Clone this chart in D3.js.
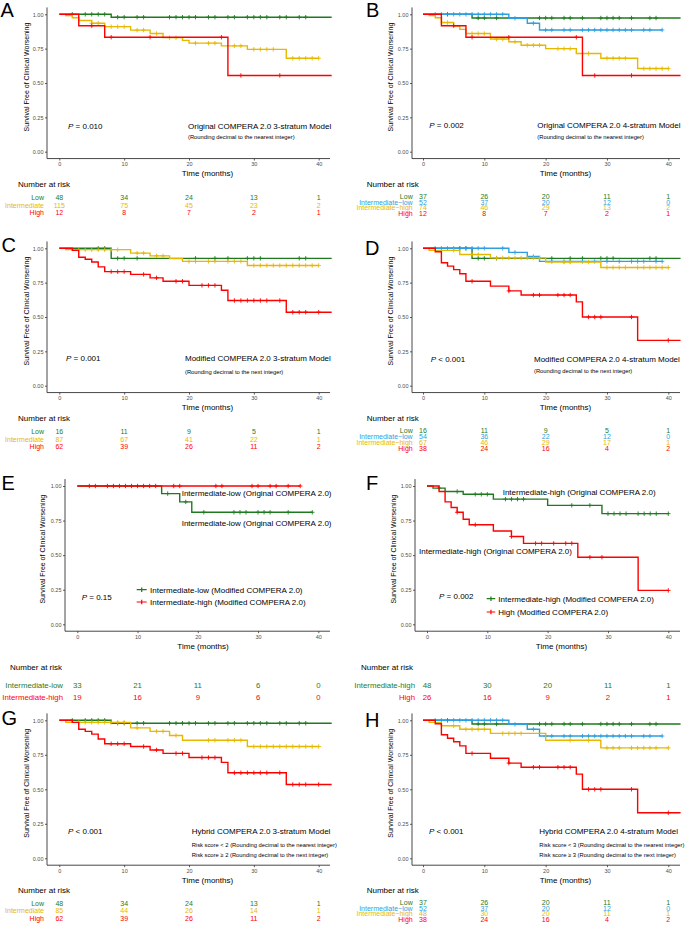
<!DOCTYPE html>
<html>
<head>
<meta charset="utf-8">
<script src="https://cdn.jsdelivr.net/npm/d3@7"></script>
<style>
  body { margin: 0; background: #fff; }
  svg { display: block; }
</style>
</head>
<body>
<div id="chart"></div>
<script>
const FONT = "'Liberation Sans', Arial, Helvetica, sans-serif";
const W = 685, H = 925;

const months = [0, 10, 20, 30, 40];
const survTicks = [0, 0.25, 0.5, 0.75, 1];

const green = "#1f7a1f", yellow = "#E7B800", blue = "#2E9FDF", red = "#FF0000";

// survival curves: [time, survival] steps (last point = end of follow-up), censor = times of "+" marks
const low48Steps = [[0, 1], [8, 0.979], [42, 0.979]];
const low48Censor = [2, 4, 5, 6, 7, 9, 10, 12, 13, 17, 18, 19, 20, 21, 23, 24, 26, 27, 29, 30, 31, 32, 34, 35, 37, 38];
const int115Steps = [[0, 1], [1, 0.99], [2, 0.975], [3, 0.955], [5, 0.935], [7, 0.91], [11, 0.885], [14, 0.86], [16, 0.83], [19, 0.81], [20, 0.79], [25, 0.77], [29, 0.745], [35, 0.68], [40, 0.68]];
const int115Censor = [5, 6, 8, 9, 10, 12, 13, 15, 17, 18, 21, 23, 24, 27, 28, 30, 31, 32, 33, 36, 37, 38, 39, 40];
const high12Steps = [[0, 1], [3, 0.917], [7, 0.833], [26, 0.555], [42, 0.555]];
const high12Censor = [5, 8, 14, 25, 28, 34];

const low37Steps = [[0, 1], [8, 0.973], [42, 0.973]];
const low37Censor = [4, 9, 10, 12, 19, 20, 21, 23, 24, 26, 29, 30, 31, 32, 34, 37, 38];
const il52Steps = [[0, 1], [14, 0.971], [17, 0.935], [19, 0.886], [39, 0.886]];
const il52Censor = [2, 3, 5, 6, 7, 8, 9, 10, 11, 12, 13, 15, 18, 20, 21, 23, 24, 26, 27, 28, 29, 30, 31, 32, 33, 34, 36, 37, 39];
const ih74Steps = [[0, 1], [1, 0.99], [2, 0.975], [3, 0.94], [5, 0.915], [6, 0.89], [7, 0.86], [11, 0.82], [14, 0.8], [16, 0.775], [20, 0.75], [25, 0.715], [29, 0.68], [35, 0.605], [40, 0.605]];
const ih74Censor = [4, 8, 9, 10, 12, 13, 15, 17, 18, 19, 22, 23, 24, 27, 30, 31, 32, 33, 36, 37, 38, 39, 40];

const low16Steps = [[0, 1], [8, 0.927], [42, 0.927]];
const low16Censor = [6, 7, 9, 10, 12, 21, 24, 26, 29, 30, 31, 37, 38];
const int87Steps = [[0, 1], [1, 0.99], [11, 0.965], [14, 0.945], [17, 0.925], [19, 0.905], [29, 0.875], [40, 0.875]];
const int87Censor = [3, 4, 5, 6, 7, 8, 9, 12, 13, 15, 16, 20, 21, 23, 24, 26, 27, 28, 30, 31, 32, 33, 34, 35, 36, 37, 38, 39, 40];
const high62Steps = [[0, 1], [2, 0.985], [3, 0.935], [4, 0.92], [5, 0.9], [6, 0.865], [7, 0.83], [11, 0.81], [14, 0.785], [16, 0.76], [20, 0.73], [25, 0.695], [26, 0.62], [35, 0.535], [42, 0.535]];
const high62Censor = [8, 9, 10, 13, 15, 18, 19, 22, 23, 24, 27, 28, 29, 30, 31, 32, 34, 36, 37, 38, 40];

const il54Steps = [[0, 1], [14, 0.97], [17, 0.94], [19, 0.905], [39, 0.905]];
const il54Censor = [2, 3, 4, 5, 6, 7, 8, 9, 10, 13, 15, 18, 21, 23, 24, 26, 28, 30, 32, 34, 35, 36, 38, 39];
const ih67Steps = [[0, 1], [1, 0.985], [6, 0.955], [11, 0.93], [20, 0.9], [29, 0.86], [40, 0.86]];
const ih67Censor = [5, 8, 9, 12, 13, 14, 15, 16, 17, 18, 19, 23, 24, 27, 30, 31, 32, 33, 35, 36, 37, 38, 39, 40];
const high38Steps = [[0, 1], [2, 0.975], [3, 0.895], [4, 0.87], [5, 0.845], [6, 0.815], [7, 0.76], [11, 0.725], [14, 0.69], [16, 0.66], [25, 0.61], [26, 0.5], [35, 0.33], [42, 0.33]];
const high38Censor = [8, 14, 18, 19, 22, 23, 24, 27, 28, 29, 34, 40];

const eLowSteps = [[0, 1], [14, 0.945], [17, 0.885], [19, 0.81], [39, 0.81]];
const eLowCensor = [15, 18, 21, 26, 27, 28, 30, 31, 32, 35, 39];
const eHighSteps = [[0, 1], [37, 1]];
const eHighCensor = [2, 3, 5, 6, 7, 8, 9, 10, 11, 12, 13, 16, 17, 23, 24, 29, 30, 32, 33, 35, 37];

const fIhSteps = [[0, 1], [1, 0.985], [3, 0.96], [6, 0.94], [11, 0.905], [20, 0.86], [29, 0.8], [40, 0.8]];
const fIhCensor = [2, 5, 8, 9, 10, 13, 14, 15, 16, 24, 27, 30, 31, 32, 33, 35, 36, 37, 38, 40];
const fHighSteps = [[0, 1], [2, 0.96], [3, 0.885], [4, 0.845], [5, 0.81], [6, 0.76], [7, 0.72], [11, 0.675], [14, 0.635], [16, 0.585], [25, 0.485], [35, 0.245], [40, 0.245]];
const fHighCensor = [5, 8, 14, 18, 19, 21, 23, 24, 27, 29, 40];

const int85Steps = [[0, 1], [1, 0.985], [11, 0.945], [14, 0.92], [17, 0.89], [19, 0.855], [29, 0.81], [40, 0.81]];
const int85Censor = [3, 4, 5, 6, 7, 8, 9, 10, 12, 15, 16, 18, 23, 24, 26, 27, 28, 30, 31, 32, 33, 34, 35, 36, 37, 38, 39, 40];
const ih48Steps = [[0, 1], [1, 0.985], [3, 0.96], [6, 0.935], [11, 0.905], [20, 0.855], [29, 0.8], [40, 0.8]];
const ih48Censor = [5, 7, 8, 9, 10, 13, 14, 15, 16, 24, 27, 30, 31, 32, 34, 35, 36, 37, 38, 40];

// numbers at risk at 0, 10, 20, 30, 40 months
const strata3 = ["Low", "Intermediate", "High"];
const strata4 = ["Low", "Intermediate\u2212low", "Intermediate\u2212high", "High"];
const riskA = [[48, 34, 24, 13, 1], [115, 75, 45, 23, 2], [12, 8, 7, 2, 1]];
const riskB = [[37, 26, 20, 11, 1], [52, 37, 20, 12, 0], [74, 46, 29, 13, 2], [12, 8, 7, 2, 1]];
const riskC = [[16, 11, 9, 5, 1], [87, 67, 41, 22, 1], [62, 39, 26, 11, 2]];
const riskD = [[16, 11, 9, 5, 1], [54, 36, 22, 12, 0], [67, 46, 29, 17, 1], [38, 24, 16, 4, 2]];
const riskE = [[33, 21, 11, 6, 0], [19, 16, 9, 6, 0]];
const riskF = [[48, 30, 20, 11, 1], [26, 16, 9, 2, 1]];
const riskG = [[48, 34, 24, 13, 1], [85, 44, 26, 14, 1], [62, 39, 26, 11, 2]];
const riskH = [[37, 26, 20, 11, 1], [52, 37, 20, 12, 0], [48, 30, 20, 11, 1], [38, 24, 16, 4, 2]];

const colLeft = {axisX: 47, x0: 59.3, x40: 318.7, axisR: 330, yTitleX: 26.7, xTitleX: 207.5, nrX: 18, rowR: 44};
const colRight = {axisX: 412, x0: 423, x40: 668.3, axisR: 680, yTitleX: 390.7, xTitleX: 565.5, nrX: 366.7, rowR: 412.7};

const panels = [
  {letter: "A", lx: 0.5, ly: 16.5, col: colLeft, top: 14.3, bot: 151.7,
   curves: [[low48Steps, low48Censor, green], [int115Steps, int115Censor, yellow], [high12Steps, high12Censor, red]],
   p: " = 0.010", px: 68, py: 128.6, model: "Original COMPERA 2.0 3-stratum Model", mx: 188, my: 128.6,
   subs: ["(Rounding decimal to the nearest integer)"], subY: [139.1],
   labels: strata3, risk: riskA, rColors: [green, yellow, red], nrY: 187.2, rowY: [200.3, 207.7, 215], rSize: 7},
  {letter: "B", lx: 366, ly: 17, col: colRight, top: 14.3, bot: 151.7,
   curves: [[low37Steps, low37Censor, green], [il52Steps, il52Censor, blue], [ih74Steps, ih74Censor, yellow], [high12Steps, high12Censor, red]],
   p: " = 0.002", px: 429.3, py: 128.2, model: "Original COMPERA 2.0 4-stratum Model", mx: 537.3, my: 128.2,
   subs: ["(Rounding decimal to the nearest integer)"], subY: [139],
   labels: strata4, risk: riskB, rColors: [green, blue, yellow, red], nrY: 187.1, rowY: [198.8, 204.7, 210.3, 216.3], rSize: 7},
  {letter: "C", lx: 1.5, ly: 251.7, col: colLeft, top: 248.3, bot: 385.7,
   curves: [[low16Steps, low16Censor, green], [int87Steps, int87Censor, yellow], [high62Steps, high62Censor, red]],
   p: " = 0.001", px: 66, py: 361.2, model: "Modified COMPERA 2.0 3-stratum Model", mx: 185, my: 361.2,
   subs: ["(Rounding decimal to the next integer)"], subY: [374.4],
   labels: strata3, risk: riskC, rColors: [green, yellow, red], nrY: 421.2, rowY: [434.3, 441.7, 449], rSize: 7},
  {letter: "D", lx: 365, ly: 255, col: colRight, top: 248.3, bot: 385.7,
   curves: [[low16Steps, low16Censor, green], [il54Steps, il54Censor, blue], [ih67Steps, ih67Censor, yellow], [high38Steps, high38Censor, red]],
   p: " < 0.001", px: 430.7, py: 362.2, model: "Modified COMPERA 2.0 4-stratum Model", mx: 534, my: 362.2,
   subs: ["(Rounding decimal to the next integer)"], subY: [373.1],
   labels: strata4, risk: riskD, rColors: [green, blue, yellow, red], nrY: 421.2, rowY: [433, 439.2, 445, 450.7], rSize: 7},
  {letter: "E", lx: 1.5, ly: 490.3, col: {axisX: 65, x0: 77.3, x40: 318.3, axisR: 330, yTitleX: 42.7, xTitleX: 203, nrX: 10, rowR: 63}, top: 486, bot: 624.3,
   curves: [[eLowSteps, eLowCensor, green], [eHighSteps, eHighCensor, red]],
   p: " = 0.15", px: 81.7, py: 599.9, model: null, subs: [], subY: [],
   notes: [["Intermediate-low (Original COMPERA 2.0)", 181.7, 495.9], ["Intermediate-low (Original COMPERA 2.0)", 181.7, 525.9]],
   legend: {x: 136.7, w: 10, tx: 150, rows: [589.7, 602], items: [["Intermediate-low (Modified COMPERA 2.0)", green], ["Intermediate-high (Modified COMPERA 2.0)", red]]},
   labels: ["Intermediate-low", "Intermediate-high"], risk: riskE, rColors: [green, red], nrY: 669.9, rowY: [687.9, 699.9], rSize: 7.8},
  {letter: "F", lx: 366, ly: 490.3, col: {axisX: 415, x0: 427, x40: 668.3, axisR: 680, yTitleX: 393.3, xTitleX: 561.5, nrX: 361, rowR: 415}, top: 486, bot: 624.3,
   curves: [[fIhSteps, fIhCensor, green], [fHighSteps, fHighCensor, red]],
   p: " = 0.002", px: 439, py: 599.2, model: null, subs: [], subY: [],
   notes: [["Intermediate-high (Original COMPERA 2.0)", 502.7, 494.9], ["Intermediate-high (Original COMPERA 2.0)", 419, 554.2]],
   legend: {x: 486.7, w: 8.5, tx: 498.3, rows: [598.7, 612], items: [["Intermediate-high (Modified COMPERA 2.0)", green], ["High (Modified COMPERA 2.0)", red]]},
   labels: ["Intermediate-high", "High"], risk: riskF, rColors: [green, red], nrY: 669.9, rowY: [687.9, 699.9], rSize: 7.8},
  {letter: "G", lx: 1.5, ly: 725, col: colLeft, top: 720.3, bot: 858.3,
   curves: [[low48Steps, low48Censor, green], [int85Steps, int85Censor, yellow], [high62Steps, high62Censor, red]],
   p: " < 0.001", px: 68, py: 833.9, model: "Hybrid COMPERA 2.0 3-stratum Model", mx: 191.7, my: 833.9,
   subs: ["Risk score < 2 (Rounding decimal to the nearest integer)", "Risk score \u2265 2 (Rounding decimal to the next integer)"], subY: [847.4, 857.1],
   labels: strata3, risk: riskG, rColors: [green, yellow, red], nrY: 892.9, rowY: [906, 913.4, 920.7], rSize: 7},
  {letter: "H", lx: 365, ly: 726.5, col: colRight, top: 720.3, bot: 858.3,
   curves: [[low37Steps, low37Censor, green], [il52Steps, il52Censor, blue], [ih48Steps, ih48Censor, yellow], [high38Steps, high38Censor, red]],
   p: " < 0.001", px: 429, py: 833.6, model: "Hybrid COMPERA 2.0 4-stratum Model", mx: 539.3, my: 833.6,
   subs: ["Risk score < 3 (Rounding decimal to the nearest integer)", "Risk score \u2265 3 (Rounding decimal to the next integer)"], subY: [847.1, 857.1],
   labels: strata4, risk: riskH, rColors: [green, blue, yellow, red], nrY: 892.9, rowY: [905, 910.5, 916.3, 922], rSize: 7}
];

const svg = d3.select("#chart").append("svg")
  .attr("width", W)
  .attr("height", H)
  .style("font-family", FONT);

function survAt(steps, t) {
  let s = steps[0][1];
  for (const [tt, v] of steps) if (tt <= t) s = v;
  return s;
}

function label(g, x, y, s, size, color, anchor) {
  return g.append("text")
    .attr("x", x).attr("y", y)
    .attr("font-size", size)
    .attr("fill", color || "#000")
    .attr("text-anchor", anchor || "start")
    .text(s);
}

function crossPath(cx, cy, r) {
  return `M${cx - r},${cy}h${2 * r}M${cx},${cy - r}v${2 * r}`;
}

panels.forEach(p => {
  const c = p.col;
  const g = svg.append("g");
  const x = d3.scaleLinear().domain([0, 40]).range([c.x0, c.x40]);
  const y = d3.scaleLinear().domain([0, 1]).range([p.bot, p.top]);
  const yTop = y(1.05), yBot = y(-0.05);

  // axis lines
  g.append("path")
    .attr("d", `M${c.axisX},${yTop}V${yBot}H${c.axisR}`)
    .attr("fill", "none")
    .attr("stroke", "#333")
    .attr("stroke-width", 0.9);

  g.append("g")
    .attr("transform", `translate(${c.axisX},0)`)
    .call(d3.axisLeft(y).tickValues(survTicks).tickFormat(d3.format(".2f")).tickSize(2).tickPadding(1.5))
    .call(a => a.select(".domain").remove())
    .call(a => a.selectAll(".tick line").attr("stroke", "#333").attr("stroke-width", 0.8))
    .call(a => a.selectAll(".tick text").attr("fill", "#4d4d4d"))
    .attr("font-family", FONT).attr("font-size", 5.5);

  g.append("g")
    .attr("transform", `translate(0,${yBot})`)
    .call(d3.axisBottom(x).tickValues(months).tickSize(2).tickPadding(1.5))
    .call(a => a.select(".domain").remove())
    .call(a => a.selectAll(".tick line").attr("stroke", "#333").attr("stroke-width", 0.8))
    .call(a => a.selectAll(".tick text").attr("fill", "#4d4d4d"))
    .attr("font-family", FONT).attr("font-size", 5.5);

  // axis titles
  g.append("text")
    .attr("transform", `translate(${c.yTitleX + 2.5},${(yTop + yBot) / 2 - 6}) rotate(-90)`)
    .attr("text-anchor", "middle")
    .attr("font-size", 7)
    .text("Survival Free of Clinical Worsening");
  label(g, c.xTitleX, yBot + 17.4, "Time (months)", 8, "#000", "middle");

  // curves
  const line = d3.line().x(d => x(d[0])).y(d => y(d[1])).curve(d3.curveStepAfter);
  p.curves.forEach(([steps, censor, color]) => {
    g.append("path")
      .datum(steps)
      .attr("d", line)
      .attr("fill", "none")
      .attr("stroke", color)
      .attr("stroke-width", 1.4);
    g.append("path")
      .attr("d", censor.map(t => crossPath(x(t), y(survAt(steps, t)), 2.2)).join(""))
      .attr("fill", "none")
      .attr("stroke", color)
      .attr("stroke-width", 0.9);
  });

  // panel letter
  label(g, p.lx, p.ly, p.letter, 20, "#000");

  // p value and model text
  const pt = label(g, p.px, p.py, "", 8, "#000");
  pt.append("tspan").attr("font-style", "italic").text("P");
  pt.append("tspan").text(p.p);
  if (p.model) label(g, p.mx, p.my, p.model, 8, "#000");
  p.subs.forEach((s, i) => label(g, p.mx, p.subY[i], s, 5.8, "#000"));

  (p.notes || []).forEach(([s, nx, ny]) => label(g, nx, ny, s, 8, "#000"));

  if (p.legend) {
    const L = p.legend;
    L.items.forEach(([s, color], i) => {
      const ly = L.rows[i];
      g.append("path")
        .attr("d", `M${L.x},${ly}h${L.w}` + crossPath(L.x + L.w / 2, ly, 2.2))
        .attr("stroke", color)
        .attr("stroke-width", 1.2)
        .attr("fill", "none");
      label(g, L.tx, ly + 2.9, s, 8, "#000");
    });
  }

  // number at risk table
  label(g, c.nrX, p.nrY, "Number at risk", 8, "#000");
  p.labels.forEach((s, i) => {
    const ry = p.rowY[i];
    label(g, c.rowR, ry, s, p.rSize, p.rColors[i], "end");
    p.risk[i].forEach((n, j) => label(g, x(months[j]), ry, n, p.rSize, p.rColors[i], "middle"));
  });
});
</script>
</body>
</html>
